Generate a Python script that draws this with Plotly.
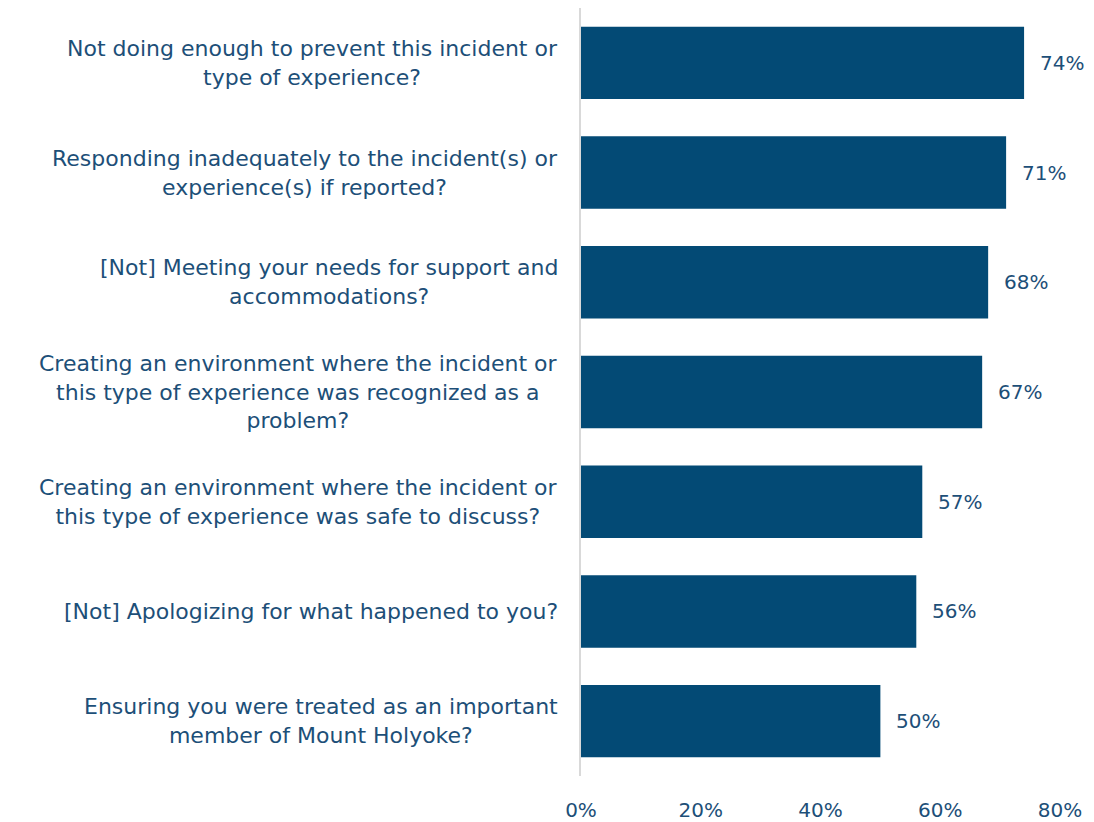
import plotly.graph_objects as go

categories = [
    "Not doing enough to prevent this incident or<br>type of experience?",
    "Responding inadequately to the incident(s) or<br>experience(s) if reported?",
    "[Not] Meeting your needs for support and<br>accommodations?",
    "Creating an environment where the incident or<br>this type of experience was recognized as a<br>problem?",
    "Creating an environment where the incident or<br>this type of experience was safe to discuss?",
    "[Not] Apologizing for what happened to you?",
    "Ensuring you were treated as an important<br>member of Mount Holyoke?",
]
values = [74, 71, 68, 67, 57, 56, 50]
tick_vals = [0, 20, 40, 60, 80]
tick_text = ["0%", "20%", "40%", "60%", "80%"]

BAR = "#034A75"
TXT = "#1D4F78"
FONT = "DejaVu Sans"

ids = list(range(len(categories)))

fig = go.Figure(go.Bar(
    x=values, y=ids, orientation="h",
    marker=dict(color=BAR, line=dict(width=0)),
    width=0.66, hoverinfo="skip",
))

for i, (c, v) in enumerate(zip(categories, values)):
    fig.add_annotation(x=0, y=i, xref="x", yref="y", text=c, showarrow=False,
                       xanchor="right", yanchor="middle", align="center", xshift=-21,
                       font=dict(family=FONT, size=22, color=TXT))
    fig.add_annotation(x=v, y=i, xref="x", yref="y", text=f"{v}%", showarrow=False,
                       xanchor="left", yanchor="middle", xshift=14,
                       font=dict(family=FONT, size=20, color=TXT))

fig.update_layout(
    width=1086, height=814,
    margin=dict(l=573, r=34, t=0, b=44),
    paper_bgcolor="white", plot_bgcolor="white",
    showlegend=False,
    font=dict(family=FONT, color=TXT),
)
fig.update_xaxes(range=[0, 80], tickvals=tick_vals, ticktext=tick_text,
                 showgrid=False, zeroline=False, showline=False,
                 tickfont=dict(family=FONT, size=20, color=TXT),
                 ticklabelstandoff=20)
fig.update_yaxes(range=[6.5, -0.5], showticklabels=False, showgrid=False,
                 zeroline=False, showline=True, linecolor="#D9D9D9", linewidth=2)

fig.write_html("out.html")
